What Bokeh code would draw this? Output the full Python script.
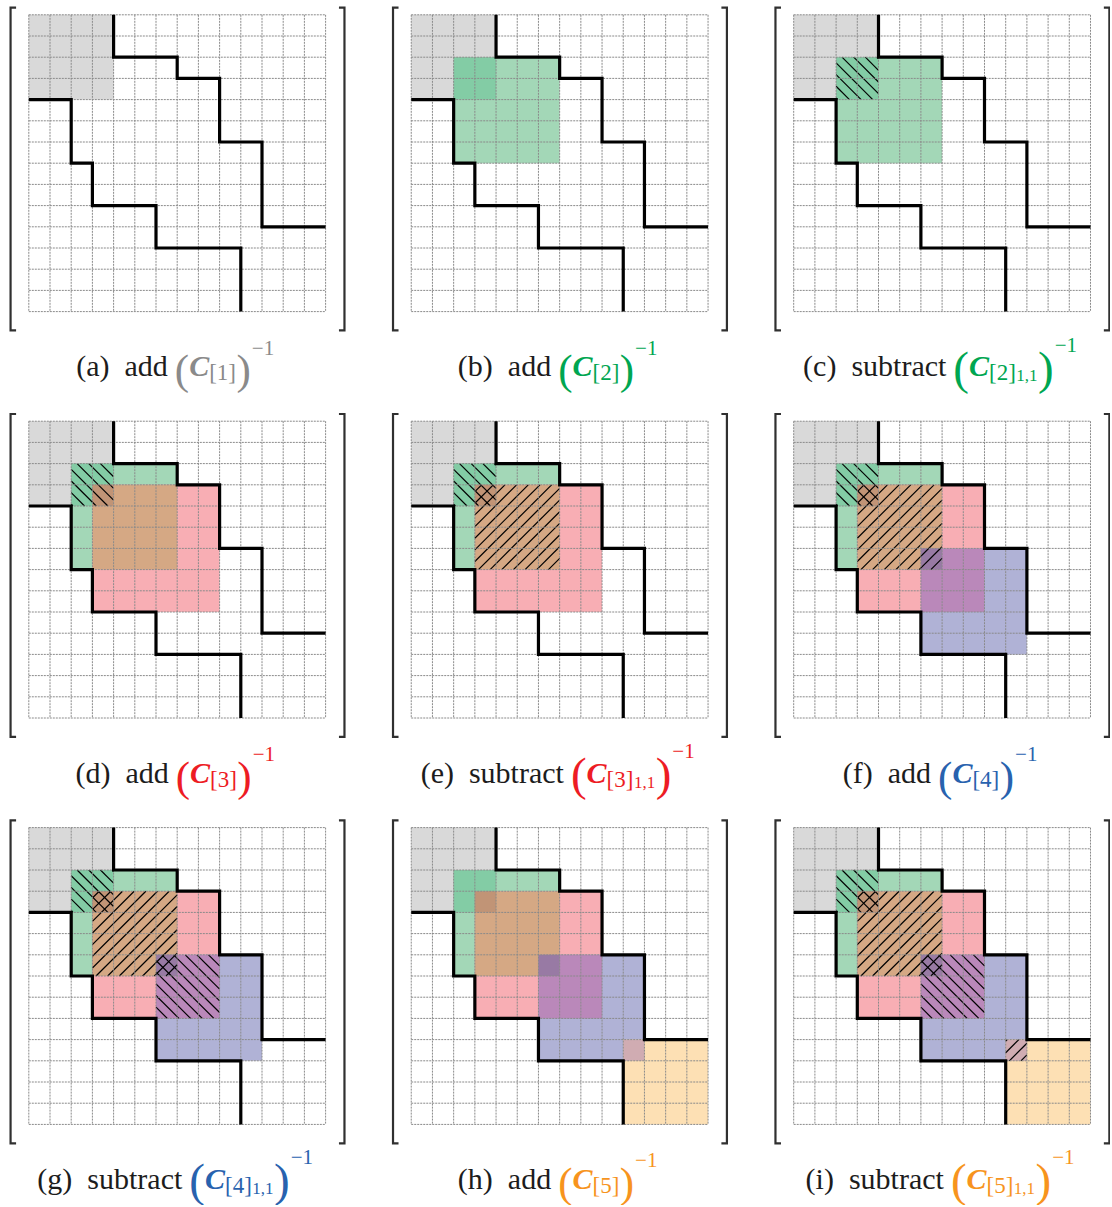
import itertools
from bokeh.plotting import figure
from bokeh.models import Range1d, ColumnDataSource
from bokeh.core.properties import value
from bokeh.embed import file_html
from bokeh.resources import INLINE

# ---------------- data ----------------
N_CELLS = 14                              # matrix is 14 x 14 cells
block_start = [0, 2, 3, 6, 10]            # diagonal blocks C[1]..C[5] (first index)
block_end = [4, 7, 9, 11, 14]             # (one past last index)
stair_x = [4, 4, 7, 7, 9, 9, 11, 11, 14]  # upper sparsity boundary (lower = transpose)
stair_y = [0, 2, 2, 3, 3, 6, 6, 10, 10]
panel_labels = ["(a)", "(b)", "(c)", "(d)", "(e)", "(f)", "(g)", "(h)", "(i)"]
panel_verbs = ["add", "add", "subtract", "add", "subtract", "add", "subtract", "add", "subtract"]
panel_nblocks = [1, 2, 2, 3, 3, 4, 4, 5, 5]
panel_hatched = [[], [], [1], [1], [1, 2], [1, 2], [1, 2, 3], [], [1, 2, 3, 4]]

# ---------------- style / layout ----------------
region_colors = {
    (0,): "#d9d9d9", (1,): "#a3d7b7", (0, 1): "#83cca5",
    (2,): "#f8aeb4", (1, 2): "#d5a884", (0, 1, 2): "#c19476",
    (3,): "#b0b2d6", (2, 3): "#ba88ba", (1, 2, 3): "#987aa4",
    (4,): "#fde0b4", (3, 4): "#d0acb2",
}
caption_colors = ["#8a8a8a", "#00a651", "#ed1c24", "#2862ae", "#f7941d"]
TEXT_COLOR = "#1c1c1c"
FONT = "Liberation Serif"
PX = 21.2                      # pixels per cell
PITCH_X, PITCH_Y = 18.04, 19.17
CAP_BASE = 16.55
BR_L, BR_R, BR_T, BR_B, BR_SERIF = -0.86, 14.89, -0.34, 14.89, 0.26
HATCH_STEP, HATCH_PHASE = 0.55, 0.27

W, H = 1110, 1205
X0, Y0 = -28.3 / PX, -14.3 / PX

p = figure(width=W, height=H,
           x_range=Range1d(X0, X0 + W / PX), y_range=Range1d(Y0 + H / PX, Y0),
           output_backend="svg", toolbar_location=None,
           x_axis_location=None, y_axis_location=None, min_border=0)
p.grid.visible = False
p.outline_line_color = None
p.background_fill_color = "white"
p.border_fill_color = "white"

def origin(k):
    return (k % 3) * PITCH_X, (k // 3) * PITCH_Y

def hatch_lines(x0, x1, y0, y1, backslash):
    """45-degree hatch segments clipped to the rectangle (panel-local cells)."""
    out = []
    if backslash:          # y - x = c
        lo, hi = y0 - x1, y1 - x0
    else:                  # x + y = c
        lo, hi = x0 + y0, x1 + y1
    kmin = int((lo - HATCH_PHASE) // HATCH_STEP) - 1
    kmax = int((hi - HATCH_PHASE) // HATCH_STEP) + 1
    for kk in range(kmin, kmax + 1):
        c = HATCH_PHASE + kk * HATCH_STEP
        if backslash:
            xs, xe = max(x0, y0 - c), min(x1, y1 - c)
            if xe - xs > 1e-6:
                out.append((xs, xs + c, xe, xe + c))
        else:
            xs, xe = max(x0, c - y1), min(x1, c - y0)
            if xe - xs > 1e-6:
                out.append((xs, c - xs, xe, c - xe))
    return out

# ---- colored block regions and hatching ----
fill = dict(left=[], right=[], top=[], bottom=[], color=[])
hx0, hy0, hx1, hy1 = [], [], [], []
for k in range(9):
    ox, oy = origin(k)
    n = panel_nblocks[k]
    for size in (1, 2, 3):
        for combo in itertools.combinations(range(n), size):
            a = max(block_start[i] for i in combo)
            b = min(block_end[i] for i in combo)
            if b > a and combo in region_colors:
                fill["left"].append(ox + a); fill["right"].append(ox + b)
                fill["top"].append(oy + a); fill["bottom"].append(oy + b)
                fill["color"].append(region_colors[combo])
    for j in panel_hatched[k]:
        a, b = block_start[j], block_end[j - 1]
        for (xa, ya, xb, yb) in hatch_lines(a, b, a, b, j % 2 == 1):
            hx0.append(ox + xa); hy0.append(oy + ya)
            hx1.append(ox + xb); hy1.append(oy + yb)

p.quad(source=ColumnDataSource(fill), left="left", right="right", top="top",
       bottom="bottom", fill_color="color", line_color=None)
p.segment(hx0, hy0, hx1, hy1, line_color="black", line_width=1.2)

# ---- dotted grid ----
gx0, gy0, gx1, gy1 = [], [], [], []
for k in range(9):
    ox, oy = origin(k)
    for i in range(N_CELLS + 1):
        gx0 += [ox + i, ox]; gx1 += [ox + i, ox + N_CELLS]
        gy0 += [oy, oy + i]; gy1 += [oy + N_CELLS, oy + i]
p.segment(gx0, gy0, gx1, gy1, line_color="#8a8a8a", line_width=1, line_dash="2 1")

# ---- staircase boundaries ----
sxs, sys_ = [], []
for k in range(9):
    ox, oy = origin(k)
    sxs.append([ox + v for v in stair_x]); sys_.append([oy + v for v in stair_y])
    sxs.append([ox + v for v in stair_y]); sys_.append([oy + v for v in stair_x])
p.multi_line(sxs, sys_, line_color="black", line_width=3.2, line_join="miter")

# ---- matrix brackets ----
bxs, bys = [], []
for k in range(9):
    ox, oy = origin(k)
    bxs.append([ox + BR_L + BR_SERIF, ox + BR_L, ox + BR_L, ox + BR_L + BR_SERIF])
    bys.append([oy + BR_T, oy + BR_T, oy + BR_B, oy + BR_B])
    bxs.append([ox + BR_R - BR_SERIF, ox + BR_R, ox + BR_R, ox + BR_R - BR_SERIF])
    bys.append([oy + BR_T, oy + BR_T, oy + BR_B, oy + BR_B])
p.multi_line(bxs, bys, line_color="#303030", line_width=2.2, line_join="miter")

# ---- captions ----
W_REG = {'(': 333, ')': 333, '[': 333, ']': 333, ',': 250, ' ': 250, '\u2212': 564,
         'a': 444, 'b': 500, 'c': 444, 'd': 500, 'e': 444, 'f': 333, 'g': 500,
         'h': 500, 'i': 278, 'r': 333, 's': 389, 't': 278, 'u': 500}

def text_width(s, size, style):
    tot = 0
    for ch in s:
        if style == "bold italic":
            tot += 667 if ch == 'C' else 600
        else:
            tot += W_REG.get(ch, 500)
    return tot * size / 1000.0

MAIN, SUB, SUBSUB, SUP = 30, 23, 17, 21
cap = dict(x=[], y=[], text=[], xo=[], yo=[], size=[], style=[], color=[])
for k in range(9):
    ox, oy = origin(k)
    mc = caption_colors[panel_nblocks[k] - 1]
    is_sub = panel_verbs[k] == "subtract"
    paren = 47 if is_sub else 43
    pdy = 2 if is_sub else 4
    pieces = [
        (panel_labels[k], MAIN, "normal", TEXT_COLOR, 0, 0),
        (panel_verbs[k], MAIN, "normal", TEXT_COLOR, 0, 15),
        ("(", paren, "normal", mc, pdy, 7),
        ("C", MAIN, "bold italic", mc, 0, 0),
        ("[%d]" % panel_nblocks[k], SUB, "normal", mc, 7, 0),
    ]
    if is_sub:
        pieces.append(("1,1", SUBSUB, "normal", mc, 10, 0.5))
    pieces.append((")", paren, "normal", mc, pdy, 0.5))
    pieces.append(("\u22121", SUP, "normal", mc, -21 if is_sub else -18, 1))
    total = sum(text_width(t, s, st) + g for t, s, st, c, dy, g in pieces)
    xpos = -total / 2.0 - 2
    for t, s, st, c, dy, g in pieces:
        xpos += g
        cap["x"].append(ox + N_CELLS / 2.0); cap["y"].append(oy + CAP_BASE)
        cap["text"].append(t); cap["xo"].append(xpos); cap["yo"].append(dy)
        cap["size"].append("%dpx" % s); cap["style"].append(st); cap["color"].append(c)
        xpos += text_width(t, s, st)

p.text(source=ColumnDataSource(cap), x="x", y="y", text="text", x_offset="xo",
       y_offset="yo", text_font_size="size", text_font_style="style",
       text_color="color", text_font=value(FONT), text_align="left",
       text_baseline="alphabetic")

open("out.html", "w").write(file_html(p, INLINE))
